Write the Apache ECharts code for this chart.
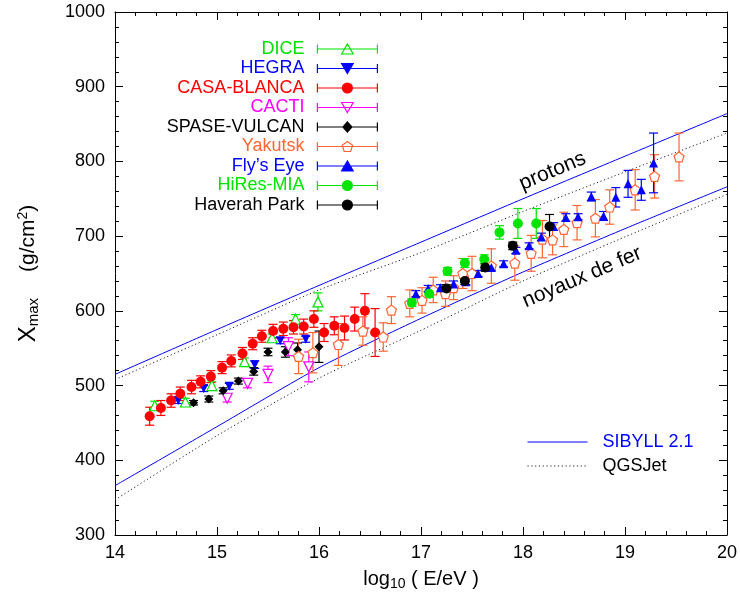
<!DOCTYPE html>
<html><head><meta charset="utf-8">
<script src="https://cdn.jsdelivr.net/npm/echarts@6/dist/echarts.min.js"></script>
<style>html,body{margin:0;padding:0;background:#fff}#c{width:740px;height:599px}</style>
</head><body><div id="c"></div>
<script>
const FONT = "'Liberation Sans', Arial, Helvetica, sans-serif";

// model curves (log10 E -> Xmax)
const modelX = [14, 15, 16, 17, 18, 19, 20];
const sibyllProton = [515, 575, 634, 692, 750, 807, 864];
const sibyllIron   = [366, 445, 524, 590, 652, 710, 766];
const qgsProton    = [508, 568, 628, 678, 733, 786, 838];
const qgsIron      = [347, 433, 510, 574, 640, 699, 756];

// measurements: [log10 E, Xmax, error]
const DICE = [[14.39,473,6],[14.69,478,5],[14.95,500,5],[15.27,532,5],[15.54,564,5],[15.77,589,6],[15.99,612,12]];
const HEGRA = [[14.62,480,4],[14.87,496,4],[15.12,499,4],[15.37,528,5],[15.62,560,4],[15.87,562,4]];
const CASA = [[14.34,459,12],[14.45,470,10],[14.55,480,9],[14.64,489,9],[14.75,498,9],[14.84,505,8],[14.94,512,8],
  [15.05,524,8],[15.14,533,8],[15.25,543,8],[15.35,556,8],[15.44,566,8],[15.55,573,9],[15.65,576,9],[15.75,578,9],
  [15.85,579,10],[15.95,589,11],[16.05,571,12],[16.15,580,12],[16.25,577,16],[16.35,589,16],[16.45,600,23],[16.55,571,32]];
const CACTI = [[15.10,483,5],[15.30,503,6],[15.50,515,11],[15.70,552,12],[15.90,525,20]];
const SPASE = [[14.77,477,3],[14.92,482,4],[15.06,493,4],[15.21,506,4],[15.36,519,5],[15.50,545,5],[15.67,545,7],[15.79,548,9],[16.00,552,21]];
const YAKUTSK = [[15.80,539,23],[15.94,544,27],[16.19,555,28],[16.43,573,19],[16.63,565,19],[16.71,601,18],[16.89,610,18],
  [17.01,614,17],[17.12,628,17],[17.24,623,17],[17.32,631,16],[17.41,650,20],[17.50,650,23],[17.69,660,23],[17.92,664,23],
  [18.08,677,24],[18.19,696,25],[18.29,695,20],[18.40,709,23],[18.53,718,23],[18.71,724,25],[18.85,739,23],[19.10,762,27],
  [19.29,780,29],[19.53,806,32]];
const FLYSEYE = [[16.95,623,4],[17.07,630,4],[17.19,631,4],[17.32,636,4],[17.44,639,4],[17.56,650,4],[17.69,658,4],
  [17.81,663,4],[17.93,681,4],[18.06,687,4],[18.18,699,5],[18.30,713,5],[18.42,725,5],[18.54,726,4],[18.67,753,6],
  [18.79,727,6],[18.91,752,13],[19.03,770,18],[19.16,762,14],[19.28,798,40]];
const HIRES = [[16.91,611,5],[17.08,623,5],[17.26,653,5],[17.43,664,6],[17.62,669,6],[17.77,705,9],[17.95,717,20],[18.13,717,20]];
const HAVERAH = [[17.25,630,5],[17.43,640,5],[17.63,658,5],[17.90,687,5],[18.26,713,16]];

const G = '#00e400', B = '#0000ff', R = '#ff0000', M = '#ff00ff', K = '#000000', O = '#ff6633';
const PENT = 'path://M0,-10L9.51,-3.09L5.88,8.09L-5.88,8.09L-9.51,-3.09Z';
const BAR = 'M0,5L60,5M0,0.5L0,9.5M60,0.5L60,9.5';
const ICON = {
  up: 'path://' + BAR + 'M30,0L35.8,10L24.2,10Z',
  down: 'path://' + BAR + 'M30,10L35.8,0L24.2,0Z',
  circle: 'path://' + BAR + 'M35,5A5,5 0 1 1 25,5A5,5 0 1 1 35,5Z',
  diamond: 'path://' + BAR + 'M30,0L34.5,5L30,10L25.5,5Z',
  pent: 'path://' + BAR + 'M30,0L35.2,3.8L33.2,10L26.8,10L24.8,3.8Z'
};

const sets = [
  {name: 'DICE', data: DICE, color: G, symbol: 'triangle', rot: 0, size: 10, hollow: true, icon: ICON.up},
  {name: 'HEGRA', data: HEGRA, color: B, symbol: 'triangle', rot: 180, size: 9, hollow: false, icon: ICON.down},
  {name: 'CASA-BLANCA', data: CASA, color: R, symbol: 'circle', rot: 0, size: 10, hollow: false, icon: ICON.circle},
  {name: 'CACTI', data: CACTI, color: M, symbol: 'triangle', rot: 180, size: 10, hollow: true, icon: ICON.down},
  {name: 'SPASE-VULCAN', data: SPASE, color: K, symbol: 'diamond', rot: 0, size: 9, hollow: false, icon: ICON.diamond},
  {name: 'Yakutsk', data: YAKUTSK, color: O, symbol: PENT, rot: 0, size: 10, hollow: true, icon: ICON.pent},
  {name: "Fly\u2019s Eye", data: FLYSEYE, color: B, symbol: 'triangle', rot: 0, size: 9, hollow: false, icon: ICON.up},
  {name: 'HiRes-MIA', data: HIRES, color: G, symbol: 'circle', rot: 0, size: 10, hollow: false, icon: ICON.circle},
  {name: 'Haverah Park', data: HAVERAH, color: K, symbol: 'circle', rot: 0, size: 10, hollow: false, icon: ICON.circle}
];

function errRender(color) {
  return function (params, api) {
    const x = api.value(0), lo = api.value(1), hi = api.value(2);
    const a = api.coord([x, lo]), b = api.coord([x, hi]);
    const w = 4.5;
    const st = {stroke: color, lineWidth: 1.2};
    return {type: 'group', children: [
      {type: 'line', shape: {x1: a[0], y1: a[1], x2: b[0], y2: b[1]}, style: st},
      {type: 'line', shape: {x1: a[0] - w, y1: a[1], x2: a[0] + w, y2: a[1]}, style: st},
      {type: 'line', shape: {x1: b[0] - w, y1: b[1], x2: b[0] + w, y2: b[1]}, style: st}
    ]};
  };
}

const series = [];
function modelLine(name, ys, color, type) {
  series.push({type: 'line', name: name, data: modelX.map((x, i) => [x, ys[i]]), symbol: 'none', showSymbol: false, smooth: 0.2,
    lineStyle: {color: color, width: 1, type: type}, itemStyle: {color: color}, z: 1, silent: true});
}
modelLine('SIBYLL 2.1', sibyllProton, B, 'solid');
modelLine('SIBYLL 2.1', sibyllIron, B, 'solid');
modelLine('QGSJet', qgsProton, '#222', [1.2, 2.6]);
modelLine('QGSJet', qgsIron, '#222', [1.2, 2.6]);

sets.forEach(s => {
  series.push({type: 'custom', name: s.name, dimensions: ['x', 'lo', 'hi'],
    data: s.data.map(d => [d[0], d[1] - d[2], d[1] + d[2]]),
    encode: {x: 0, y: [1, 2]}, renderItem: errRender(s.color), clip: true, z: 2, silent: true});
});
sets.forEach(s => {
  series.push({type: 'scatter', name: s.name, data: s.data.map(d => [d[0], d[1]]),
    symbol: s.symbol, symbolRotate: s.rot, symbolSize: s.size, z: 3, silent: true,
    itemStyle: s.hollow ? {color: '#ffffff', borderColor: s.color, borderWidth: 1.2, opacity: 1}
                        : {color: s.color, borderWidth: 0, opacity: 1}});
});

const tickCommon = {
  axisLine: {show: true, onZero: false, lineStyle: {color: '#000', width: 1}},
  axisTick: {show: true, inside: true, length: 8, lineStyle: {color: '#000', width: 1}},
  minorTick: {show: true, splitNumber: 5, length: 4, lineStyle: {color: '#000', width: 1}},
  splitLine: {show: false}
};

const chart = echarts.init(document.getElementById('c'), null, {renderer: 'canvas'});
chart.setOption({
  animation: false,
  backgroundColor: '#ffffff',
  textStyle: {fontFamily: FONT},
  grid: {left: 115, right: 13, top: 12, bottom: 64, containLabel: false},
  xAxis: [
    Object.assign({type: 'value', position: 'bottom', min: 14, max: 20, interval: 1,
      axisLabel: {show: true, color: '#000', fontSize: 18, fontFamily: FONT, margin: 9, formatter: v => String(v)},
      name: '{n|log}{sub|10}{n| ( E/eV )}', nameLocation: 'middle', nameGap: 33,
      nameTextStyle: {color: '#000', fontFamily: FONT, rich: {
        n: {fontSize: 20, fontFamily: FONT, color: '#000'},
        sub: {fontSize: 14, fontFamily: FONT, color: '#000', padding: [9, 0, 0, 0]}}}
    }, tickCommon),
    Object.assign({type: 'value', position: 'top', min: 14, max: 20, interval: 1, axisLabel: {show: false}}, tickCommon)
  ],
  yAxis: [
    Object.assign({type: 'value', position: 'left', min: 300, max: 1000, interval: 100,
      axisLabel: {show: true, color: '#000', fontSize: 18, fontFamily: FONT, margin: 10, formatter: v => String(v)},
      name: '{x|X}{sub|max}{n|(g/cm}{sup|2}{n|)}', nameLocation: 'middle', nameRotate: 90, nameGap: 74,
      nameTextStyle: {color: '#000', fontFamily: FONT, rich: {
        x: {fontSize: 24, fontFamily: FONT, color: '#000'},
        sub: {fontSize: 15, fontFamily: FONT, color: '#000', padding: [10, 26, 0, 0]},
        n: {fontSize: 21, fontFamily: FONT, color: '#000'},
        sup: {fontSize: 14, fontFamily: FONT, color: '#000', padding: [0, 0, 10, 0]}}}
    }, tickCommon),
    Object.assign({type: 'value', position: 'right', min: 300, max: 1000, interval: 100, axisLabel: {show: false}}, tickCommon)
  ],
  legend: [
    {orient: 'vertical', align: 'right', right: 362, top: 40, padding: 0, itemGap: 1.5,
      itemWidth: 60, itemHeight: 10, selectedMode: false,
      textStyle: {fontSize: 18, fontFamily: FONT, padding: [0, 8, 0, 0]},
      data: sets.map(s => ({name: s.name, icon: s.icon,
        itemStyle: {color: s.hollow ? '#ffffff' : s.color, borderColor: s.color, borderWidth: 1.2},
        textStyle: {color: s.color, fontSize: 18, fontFamily: FONT, padding: [0, 8, 0, 0]}}))},
    {orient: 'vertical', left: 527, top: 433, padding: 0, itemGap: 6, itemWidth: 60, itemHeight: 10,
      selectedMode: false, textStyle: {fontSize: 18, fontFamily: FONT, padding: [0, 0, 0, 10]},
      data: [{name: 'SIBYLL 2.1', itemStyle: {opacity: 0}, lineStyle: {width: 1},
               textStyle: {color: B, fontSize: 18, fontFamily: FONT, padding: [0, 0, 0, 10]}},
             {name: 'QGSJet', itemStyle: {opacity: 0}, lineStyle: {width: 1},
               textStyle: {color: '#000', fontSize: 18, fontFamily: FONT, padding: [0, 0, 0, 10]}}]}
  ],
  series: series
});

// annotations anchored in data space
const protonLabelAt = [18.29, 787];
const ironLabelAt = [18.58, 645];
const labelAngle = 23 * Math.PI / 180;
const pP = chart.convertToPixel({xAxisIndex: 0, yAxisIndex: 0}, protonLabelAt);
const pF = chart.convertToPixel({xAxisIndex: 0, yAxisIndex: 0}, ironLabelAt);
chart.setOption({graphic: [
  {type: 'text', x: pP[0], y: pP[1], rotation: labelAngle, silent: true,
    style: {text: 'protons', fontSize: 21, fontFamily: FONT, fill: '#000', align: 'center', verticalAlign: 'middle'}},
  {type: 'text', x: pF[0], y: pF[1], rotation: labelAngle, silent: true,
    style: {text: 'noyaux de fer', fontSize: 21, fontFamily: FONT, fill: '#000', align: 'center', verticalAlign: 'middle'}}
]});
</script></body></html>
